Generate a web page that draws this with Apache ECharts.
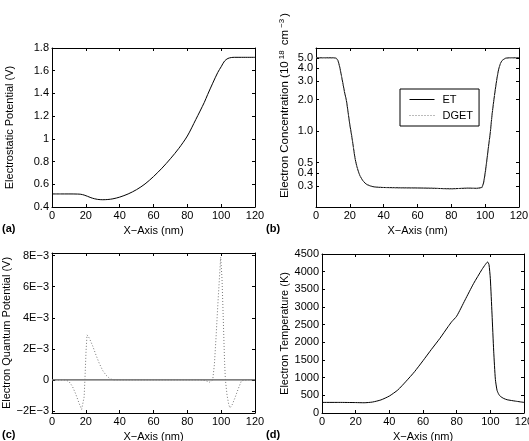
<!DOCTYPE html>
<html>
<head>
<meta charset="utf-8">
<script src="https://cdn.jsdelivr.net/npm/echarts@6.0.0/dist/echarts.min.js"></script>
<style>
  html, body { margin: 0; padding: 0; background: #fff; }
  #chart { width: 529px; height: 441px; }
</style>
</head>
<body>
<div id="chart"></div>
<script>
// (a) electrostatic potential (V)
let xPot = [0, 5, 10, 15, 17, 19, 21, 23, 25, 27, 30, 33, 36, 40, 45, 50, 55, 60, 65, 70, 75, 80, 85, 90, 92, 95, 98, 100, 102, 104, 106, 108, 112, 120]
let potential = [0.515, 0.515, 0.515, 0.514, 0.512, 0.505, 0.494, 0.482, 0.473, 0.467, 0.464, 0.466, 0.472, 0.487, 0.515, 0.553, 0.603, 0.668, 0.742, 0.825, 0.917, 1.025, 1.17, 1.32, 1.39, 1.49, 1.585, 1.635, 1.685, 1.708, 1.716, 1.718, 1.718, 1.718]

// (b) electron concentration (1e18 cm^-3), log scale
let xConc = [0, 5, 10, 12, 13, 14, 15, 16, 17, 18, 19, 20, 21, 22, 23, 24, 25, 26, 28, 30, 33, 36, 40, 50, 60, 70, 75, 80, 85, 90, 95, 97, 98, 99, 100, 101, 102, 103, 104, 105, 106, 107, 108, 109, 110, 112, 115, 120]
let concET = [5.0, 5.0, 5.0, 4.95, 4.7, 4.1, 3.4, 2.8, 2.3, 1.95, 1.5, 1.15, 0.92, 0.72, 0.56, 0.47, 0.415, 0.375, 0.332, 0.31, 0.297, 0.292, 0.29, 0.288, 0.287, 0.285, 0.283, 0.282, 0.284, 0.286, 0.285, 0.288, 0.29, 0.32, 0.4, 0.53, 0.72, 0.96, 1.4, 1.9, 2.5, 3.2, 3.9, 4.4, 4.7, 4.95, 5.0, 5.0]
let concDGET = [5.0, 5.0, 5.0, 4.93, 4.65, 4.05, 3.35, 2.75, 2.28, 1.93, 1.5, 1.16, 0.93, 0.73, 0.57, 0.475, 0.42, 0.378, 0.334, 0.311, 0.298, 0.293, 0.29, 0.288, 0.287, 0.285, 0.283, 0.282, 0.284, 0.285, 0.283, 0.284, 0.287, 0.31, 0.38, 0.51, 0.7, 0.95, 1.38, 1.9, 2.5, 3.2, 3.9, 4.4, 4.7, 4.95, 5.0, 5.0]
let concTicks = [0.3, 0.4, 0.5, 1.0, 2.0, 3.0, 4.0, 5.0]
let concTicksCrowded = [4.0]   // 与 5.0 太近, 单独一根轴画文字

// (c) electron quantum potential (V)
let xQuantET = [0, 30, 60, 90, 120]
let quantET = [0, 0, 0, 0, 0]
let xQuant = [0, 5, 8, 10, 12, 14, 16, 17.5, 18.4, 19, 19.6, 20.1, 20.7, 22, 24, 26, 28, 30, 32, 34, 36, 40, 50, 60, 70, 80, 88, 91, 93, 95, 96, 97, 98, 99, 99.7, 100.5, 101, 101.5, 102, 102.5, 103.5, 104.5, 105.2, 106.5, 108, 110, 112, 113, 116, 120]
let quantDGET = [0, 0, 0, -0.0001, -0.0004, -0.0009, -0.0015, -0.0019, -0.002, -0.0011, 0.0004, 0.0018, 0.0029, 0.0027, 0.0022, 0.0016, 0.00105, 0.0006, 0.0003, 0.0001, 0, 0, 0, 0, 0, 0, 0, -0.00005, -0.00015, 0, 0.001, 0.0028, 0.0048, 0.0066, 0.0079, 0.0065, 0.0048, 0.003, 0.0012, 0, -0.001, -0.0016, -0.0018, -0.0016, -0.0012, -0.0006, -0.00005, 0, 0, 0]
let quantTicks = [-0.002, 0, 0.002, 0.004, 0.006, 0.008]

// (d) electron temperature (K)
let xTemp = [0, 10, 20, 25, 30, 35, 40, 45, 50, 55, 60, 65, 70, 75, 77, 80, 85, 90, 95, 97, 98.4, 99.2, 100, 101, 102, 103, 104, 105, 106, 108, 110, 115, 120]
let temperature = [300, 300, 295, 290, 310, 370, 480, 650, 900, 1170, 1480, 1800, 2110, 2450, 2580, 2740, 3200, 3660, 4060, 4200, 4274, 4200, 3800, 2800, 1750, 950, 640, 530, 470, 410, 375, 335, 300]

let font = "'Liberation Sans', Arial, Helvetica, sans-serif"
let black = '#000'
let dots = [1, 2]   // 点线

function pairs(xs, ys, f) {
  return xs.map((x, i) => [x, f ? f(ys[i]) : ys[i]])
}

// x 轴 (下边带刻度文字, 上边只有刻度)
function xAxisOf(gi, pos) {
  let showLabel = pos === 'bottom'
  return {
    type: 'value', gridIndex: gi, position: pos,
    min: 0, max: 120, interval: 20,
    name: showLabel ? 'X−Axis (nm)' : '',
    nameLocation: 'middle', nameGap: 18,
    nameTextStyle: { color: black, fontSize: 11 },
    axisLine: { show: true, onZero: false, lineStyle: { color: black, width: 1 } },
    axisTick: { show: true, inside: true, length: 3, lineStyle: { color: black } },
    axisLabel: { show: showLabel, color: black, fontSize: 11, margin: 3 },
    splitLine: { show: false }
  }
}

// y 轴 (左边带文字, 右边只有刻度)
function yAxisOf(gi, pos, opts) {
  let showLabel = pos === 'left'
  let axis = {
    type: 'value', gridIndex: gi, position: pos,
    min: opts.min, max: opts.max,
    name: showLabel ? opts.name : '',
    nameLocation: 'middle', nameGap: opts.nameGap,
    nameTextStyle: Object.assign({ color: black, fontSize: 11 }, opts.nameStyle || {}),
    axisLine: { show: true, onZero: false, lineStyle: { color: black, width: 1 } },
    axisTick: { show: true, inside: true, length: 3, lineStyle: { color: black } },
    axisLabel: { show: showLabel, color: black, fontSize: 11, margin: 3,
      showMinLabel: true, showMaxLabel: true },
    splitLine: { show: false }
  }
  if (opts.interval) axis.interval = opts.interval
  if (opts.ticks) {
    axis.axisTick.customValues = opts.ticks
    axis.axisLabel.customValues = opts.labelTicks || opts.ticks
  }
  if (opts.formatter) axis.axisLabel.formatter = opts.formatter
  return axis
}

let log10s = arr => arr.map(v => Math.log10(v))
let concAxis = {
  min: Math.log10(0.189), max: Math.log10(6.2),
  ticks: log10s(concTicks),
  labelTicks: log10s(concTicks.filter(v => concTicksCrowded.indexOf(v) < 0)),
  formatter: v => Math.pow(10, v).toFixed(1),
  name: '{n|Electron Concentration (10}{s|18}{n| cm}{s|−3}{n|)}',
  nameGap: 20,
  nameStyle: {
    padding: [0, 0, 0, 44],
    rich: {
      n: { fontSize: 11.5, lineHeight: 13, verticalAlign: 'bottom', color: black },
      s: { fontSize: 8, lineHeight: 9, verticalAlign: 'top', padding: [0, 2, 8, 2], color: black }
    }
  }
}
let potAxis = { min: 0.4, max: 1.8, interval: 0.2, name: 'Electrostatic Potential (V)', nameGap: 37 }
let quantAxis = {
  min: -0.00213, max: 0.00817,
  ticks: quantTicks,
  formatter: v => {
    let k = Math.round(v * 1000)
    return k === 0 ? '0' : (k < 0 ? '−' : '') + Math.abs(k) + 'E−3'
  },
  name: 'Electron Quantum Potential (V)', nameGap: 38
}
let tempAxis = {
  min: 0, max: 4500, interval: 500,
  formatter: v => String(v),
  name: 'Electron Temperature (K)', nameGap: 30
}

let grids = [
  { left: 52, top: 48, width: 203, height: 159 },
  { left: 316, top: 48, width: 203, height: 159 },
  { left: 52, top: 253, width: 203, height: 160 },
  { left: 322, top: 254, width: 202, height: 159 }
].map(g => Object.assign({ show: false, outerBoundsMode: 'none', containLabel: false }, g))

let xAxes = []
let yAxes = []
;[potAxis, concAxis, quantAxis, tempAxis].forEach((ax, gi) => {
  xAxes.push(xAxisOf(gi, 'bottom'), xAxisOf(gi, 'top'))
  yAxes.push(yAxisOf(gi, 'left', ax), yAxisOf(gi, 'right', ax))
})
// (b) 4.0 的刻度文字
yAxes.push({
  type: 'value', gridIndex: 1, position: 'left',
  min: concAxis.min, max: concAxis.max,
  axisLine: { show: false }, axisTick: { show: false }, splitLine: { show: false },
  axisLabel: { color: black, fontSize: 11, margin: 3, customValues: log10s(concTicksCrowded),
    showMinLabel: true, showMaxLabel: true, formatter: concAxis.formatter }
})

function line(name, gi, data, style) {
  return {
    name: name, type: 'line', xAxisIndex: gi * 2, yAxisIndex: gi * 2,
    data: data, symbol: 'none', showSymbol: false, silent: true,
    smooth: style.smooth || false,
    lineStyle: { color: style.color || black, width: style.width || 1, type: style.type || 'solid' },
    itemStyle: { color: style.color || black },
    z: style.z || 2
  }
}

function panelTitle(text, left, top) {
  return { text: text, left: left, top: top, padding: 0,
    textStyle: { fontSize: 11, fontWeight: 'bold', color: black, fontFamily: font } }
}

let myChart = echarts.init(document.getElementById('chart'), null, { renderer: 'canvas' })
let option = {
  animation: false,
  backgroundColor: '#fff',
  textStyle: { fontFamily: font },
  title: [
    panelTitle('(a)', 2, 223),
    panelTitle('(b)', 266, 223),
    panelTitle('(c)', 2, 429),
    panelTitle('(d)', 266, 429)
  ],
  legend: {
    data: ['ET', 'DGET'],
    left: 400, top: 89, orient: 'vertical',
    itemWidth: 25, itemHeight: 8, itemGap: 5,
    padding: [5, 6, 5, 9],
    borderColor: black, borderWidth: 1,
    selectedMode: false,
    itemStyle: { opacity: 0, borderWidth: 0 },
    lineStyle: { width: 1, type: 'inherit' },
    textStyle: { color: black, fontSize: 11, padding: [0, 0, 0, 3] }
  },
  grid: grids,
  xAxis: xAxes,
  yAxis: yAxes,
  series: [
    line('Potential', 0, pairs(xPot, potential), { smooth: 0.3 }),
    line('ET', 1, pairs(xConc, concET, Math.log10), { smooth: 0.2 }),
    line('DGET', 1, pairs(xConc, concDGET, Math.log10), { smooth: 0.2, type: dots, color: '#777', z: 3 }),
    line('ET (c)', 2, pairs(xQuantET, quantET), { color: '#555', width: 1.3 }),
    line('DGET (c)', 2, pairs(xQuant, quantDGET), { type: dots, color: '#777', z: 3 }),
    line('Temperature', 3, pairs(xTemp, temperature), { smooth: 0.2 })
  ]
}
myChart.setOption(option)
</script>
</body>
</html>
